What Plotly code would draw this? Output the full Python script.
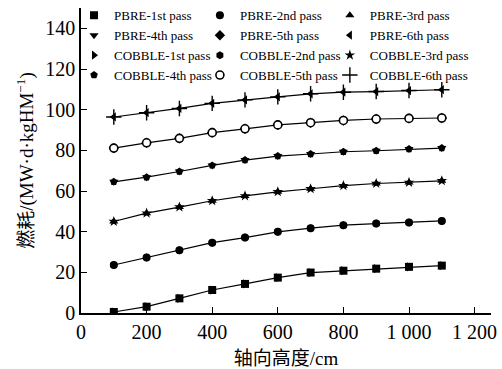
import plotly.graph_objects as go

# axial height (cm)
heights = [100, 200, 300, 400, 500, 600, 700, 800, 900, 1000, 1100]

# burnup values per pass (MW·d/kgHM)
pbre_1st = [0.5, 3.1, 7.2, 11.3, 14.3, 17.4, 19.9, 20.8, 21.8, 22.7, 23.3]
pbre_2nd = [23.6, 27.3, 30.9, 34.6, 37.1, 39.9, 41.7, 43.2, 44.0, 44.5, 45.3]
pbre_3rd = [45.0, 49.1, 52.1, 55.2, 57.6, 59.6, 61.1, 62.6, 63.7, 64.2, 65.0]
pbre_4th = [64.5, 66.8, 69.6, 72.6, 75.2, 77.2, 78.2, 79.3, 79.8, 80.6, 81.1]
pbre_5th = [81.1, 83.7, 85.9, 88.7, 90.6, 92.5, 93.6, 94.7, 95.4, 95.7, 95.9]
pbre_6th = [96.4, 98.5, 100.6, 103.1, 104.8, 106.3, 107.8, 108.6, 108.9, 109.4, 109.8]

cobble_1st = [0.5, 3.1, 7.2, 11.3, 14.3, 17.4, 19.9, 20.8, 21.8, 22.7, 23.3]
cobble_2nd = [23.6, 27.3, 30.9, 34.6, 37.1, 39.9, 41.7, 43.2, 44.0, 44.5, 45.3]
cobble_3rd = [45.0, 49.1, 52.1, 55.2, 57.6, 59.6, 61.1, 62.6, 63.7, 64.2, 65.0]
cobble_4th = [64.5, 66.8, 69.6, 72.6, 75.2, 77.2, 78.2, 79.3, 79.8, 80.6, 81.1]
cobble_5th = [81.1, 83.7, 85.9, 88.7, 90.6, 92.5, 93.6, 94.7, 95.4, 95.7, 95.9]
cobble_6th = [96.4, 98.5, 100.6, 103.1, 104.8, 106.3, 107.8, 108.6, 108.9, 109.4, 109.8]

x_tickvals = [0, 200, 400, 600, 800, 1000, 1200]
x_ticktext = ["0", "200", "400", "600", "800", "1 000", "1 200"]
y_tickvals = [0, 20, 40, 60, 80, 100, 120, 140]

# legend order (row-wise, 3 columns)
series = [
    ("PBRE-1st pass", pbre_1st, "square", "black"),
    ("PBRE-2nd pass", pbre_2nd, "circle", "black"),
    ("PBRE-3rd pass", pbre_3rd, "triangle-up", "black"),
    ("PBRE-4th pass", pbre_4th, "triangle-down", "black"),
    ("PBRE-5th pass", pbre_5th, "diamond", "black"),
    ("PBRE-6th pass", pbre_6th, "triangle-left", "black"),
    ("COBBLE-1st pass", cobble_1st, "triangle-right", "black"),
    ("COBBLE-2nd pass", cobble_2nd, "hexagon", "black"),
    ("COBBLE-3rd pass", cobble_3rd, "star", "black"),
    ("COBBLE-4th pass", cobble_4th, "pentagon", "black"),
    ("COBBLE-5th pass", cobble_5th, "circle", "white"),
    ("COBBLE-6th pass", cobble_6th, "cross-thin", "black"),
]

serif = "Liberation Serif, Times New Roman, Noto Sans CJK SC, serif"
legend_ids = ["legend", "legend2", "legend3"]

fig = go.Figure()

# connecting lines
for name, vals, sym, fill in series[:6]:
    fig.add_trace(go.Scatter(
        x=heights, y=vals, mode="lines",
        line=dict(color="black", width=1.2),
        showlegend=False, hoverinfo="skip",
    ))

for i, (name, vals, sym, fill) in enumerate(series):
    if sym == "cross-thin":
        mk = dict(symbol=sym, size=11, color="black", line=dict(color="black", width=1.4))
    elif fill == "white":
        mk = dict(symbol=sym, size=8, color="white", line=dict(color="black", width=1.6))
    else:
        mk = dict(symbol=sym, size=8, color="black", line=dict(width=0))
    fig.add_trace(go.Scatter(
        x=heights, y=vals, mode="markers", name=name,
        marker=mk, legend=legend_ids[i % 3],
    ))

leg_common = dict(
    orientation="v", yanchor="top", xanchor="left", y=1.025,
    font=dict(size=13, family=serif, color="black"),
    bgcolor="rgba(0,0,0,0)", itemsizing="trace",
)

fig.update_layout(
    template="none",
    width=502, height=369,
    margin=dict(l=81, r=11, t=8, b=56, autoexpand=False),
    paper_bgcolor="white", plot_bgcolor="white",
    font=dict(family=serif, color="black", size=20),
    showlegend=True,
    legend=dict(x=-0.017, **leg_common),
    legend2=dict(x=0.290, **leg_common),
    legend3=dict(x=0.607, **leg_common),
    xaxis=dict(
        range=[0, 1250], tickvals=x_tickvals, ticktext=x_ticktext,
        ticks="inside", ticklen=6, tickwidth=1.2, tickcolor="black",
        showline=True, linecolor="black", linewidth=1.5,
        showgrid=False, zeroline=False, automargin=False,
        tickfont=dict(size=20, family=serif),
        title=dict(text="轴向高度/cm", font=dict(size=19, family=serif)),
    ),
    yaxis=dict(
        range=[0, 150], tickvals=y_tickvals,
        ticks="inside", ticklen=6, tickwidth=1.2, tickcolor="black",
        showline=True, linecolor="black", linewidth=1.5,
        showgrid=False, zeroline=False, automargin=False,
        tickfont=dict(size=20, family=serif),
        title=dict(text="燃耗/(MW·d·kgHM<sup>−1</sup>)", font=dict(size=19, family=serif)),
    ),
)

fig.write_html("out.html")
